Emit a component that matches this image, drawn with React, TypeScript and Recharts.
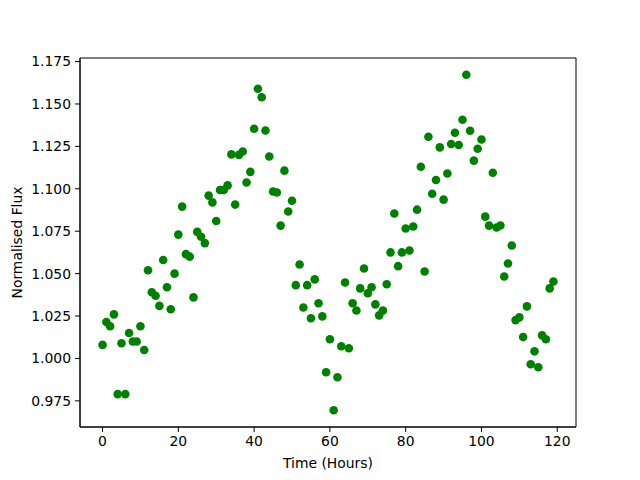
import React from 'react';
import { ScatterChart, Scatter, XAxis, YAxis, ReferenceArea } from 'recharts';

const hours: number[] = Array.from({ length: 120 }, (_, i) => i);

const flux: number[] = [
  1.008, 1.0215, 1.019, 1.026, 0.979, 1.009, 0.979, 1.015, 1.010, 1.010,
  1.019, 1.005, 1.052, 1.039, 1.037, 1.031, 1.058, 1.042, 1.029, 1.050,
  1.073, 1.0895, 1.0615, 1.060, 1.036, 1.0746, 1.0717, 1.068, 1.096, 1.092,
  1.081, 1.0993, 1.0993, 1.102, 1.1203, 1.0907, 1.120, 1.122, 1.1037, 1.110,
  1.1354, 1.159, 1.154, 1.1344, 1.119, 1.0984, 1.0978, 1.0783, 1.1107, 1.0866,
  1.093, 1.0432, 1.0554, 1.030, 1.0432, 1.0237, 1.0466, 1.0325, 1.0248, 0.9919,
  1.0113, 0.9695, 0.9889, 1.0072, 1.0448, 1.006, 1.0325, 1.0283, 1.0413, 1.053,
  1.0384, 1.042, 1.0319, 1.0254, 1.0283, 1.0437, 1.0625, 1.0854, 1.0544, 1.0625,
  1.0766, 1.0636, 1.0778, 1.0877, 1.113, 1.0513, 1.1307, 1.0971, 1.1052, 1.1244,
  1.0936, 1.109, 1.1264, 1.133, 1.1258, 1.1407, 1.1672, 1.1342, 1.1166, 1.1236,
  1.1291, 1.0836, 1.0783, 1.1095, 1.0772, 1.0784, 1.0483, 1.056, 1.0666, 1.0226,
  1.0242, 1.0126, 1.0307, 0.9966, 1.0042, 0.9948, 1.0136, 1.0113, 1.0413, 1.0454,
];

const xTicks: number[] = [0, 20, 40, 60, 80, 100, 120];
const yTicks: number[] = [0.975, 1.0, 1.025, 1.05, 1.075, 1.1, 1.125, 1.15, 1.175];

const xDomain: [number, number] = [-5.95, 124.95];
const yDomain: [number, number] = [0.9596, 1.1771];

const data = hours.map((h, i) => ({ t: h, f: flux[i] }));

const FONT = 'DejaVu Sans';
const FS = 13.9;

const dot = (props: any) => (
  <circle cx={props.cx} cy={props.cy} r={4.3} fill="#008000" />
);

export default function App() {
  return (
    <div style={{ position: 'absolute', left: 0, top: 0, width: 640, height: 480, background: '#fff' }}>
      <ScatterChart width={640} height={480} margin={{ top: 58, right: 64, bottom: 0, left: 0 }}>
        <XAxis
          dataKey="t"
          type="number"
          domain={xDomain}
          ticks={xTicks}
          allowDataOverflow
          height={53}
          tickSize={5}
          tickMargin={4}
          axisLine={{ stroke: '#000', strokeWidth: 1 }}
          tickLine={{ stroke: '#000', strokeWidth: 1 }}
          tick={{ fill: '#000', fontSize: FS, fontFamily: FONT }}
          label={{ value: 'Time (Hours)', position: 'insideBottom', offset: 12, fill: '#000', fontSize: FS, fontFamily: FONT }}
        />
        <YAxis
          dataKey="f"
          type="number"
          domain={yDomain}
          ticks={yTicks}
          allowDataOverflow
          width={80}
          tickSize={5}
          tickMargin={4}
          tickFormatter={(v: number) => v.toFixed(3)}
          axisLine={{ stroke: '#000', strokeWidth: 1 }}
          tickLine={{ stroke: '#000', strokeWidth: 1 }}
          tick={{ fill: '#000', fontSize: FS, fontFamily: FONT }}
          label={{
            content: () => (
              <text
                x={22}
                y={242.5}
                transform="rotate(-90, 22, 242.5)"
                textAnchor="middle"
                fill="#000"
                fontSize={FS}
                fontFamily={FONT}
              >
                Normalised Flux
              </text>
            ),
          }}
        />
        <ReferenceArea
          x1={xDomain[0]}
          x2={xDomain[1]}
          y1={yDomain[0]}
          y2={yDomain[1]}
          fill="none"
          fillOpacity={0}
          stroke="#000"
          strokeWidth={1}
          strokeOpacity={1}
          ifOverflow="visible"
        />
        <Scatter data={data} shape={dot} isAnimationActive={false} />
      </ScatterChart>
    </div>
  );
}
